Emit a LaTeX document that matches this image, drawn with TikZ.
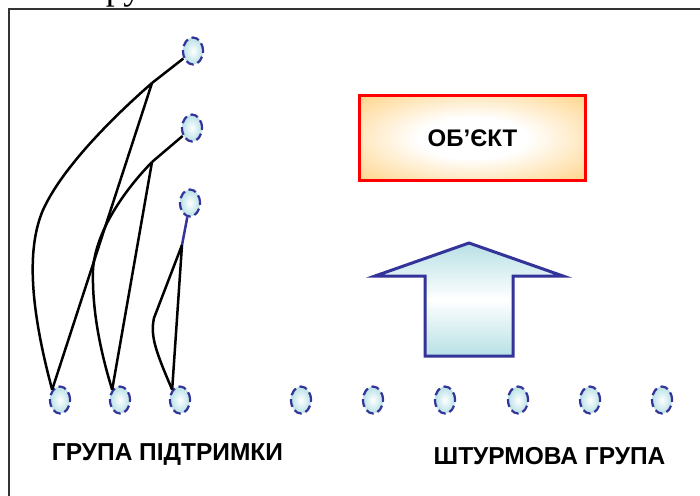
\documentclass[tikz,border=0pt]{standalone}
\usepackage{fontspec}
\setmainfont{Liberation Sans}
\newfontfamily\serifont{Liberation Serif}
\usetikzlibrary{shapes.geometric}
\definecolor{dblue}{rgb}{0.2,0.2,0.6}
\definecolor{lcyan}{rgb}{0.72,0.88,0.9}
\definecolor{orng}{rgb}{1,0.8,0.45}
\definecolor{framegray}{rgb}{0.2,0.2,0.2}
\pgfdeclareradialshading{boxshade}{\pgfpoint{0bp}{0bp}}{color(0bp)=(white); color(12bp)=(white); color(40bp)=(orng); color(80bp)=(orng)}
\tikzset{
  oval/.style={ellipse, draw=dblue, line width=2.2pt, dash pattern=on 8pt off 4pt,
    inner color=white, outer color=lcyan, minimum width=20pt, minimum height=27pt, inner sep=0pt},
  link/.style={black, line width=2.5pt, line join=miter},
  biglabel/.style={font=\bfseries\fontsize{24.5}{28}\selectfont},
}
\begin{document}
\begin{tikzpicture}[x=1pt,y=-1pt]
\useasboundingbox (0,0) rectangle (700,495);
% cut-off title fragment
\node[anchor=base west, inner sep=0pt, font=\serifont\fontsize{36}{40}\selectfont] (title) at (87,-0.8) {Група};
% frame
\draw[framegray, line width=1.8pt] (9,500) -- (9,9) -- (705,9);

% top ovals
\node[oval] (t1) at (193,51) {};
\node[oval] (t2) at (192,128) {};
\node[oval] (t3) at (190,203) {};
% bottom ovals
\node[oval] (b1) at (60,400) {};
\node[oval] (b2) at (120,400) {};
\node[oval] (b3) at (180,400) {};
\node[oval] (b4) at (301,400) {};
\node[oval] (b5) at (373,400) {};
\node[oval] (b6) at (445,400) {};
\node[oval] (b7) at (518,400) {};
\node[oval] (b8) at (590,400) {};
\node[oval] (b9) at (662,400) {};

% apex points
\coordinate (a1) at (152,83);
\coordinate (a2) at (152,162);
\coordinate (a3) at (182,245);

% links
\draw[link] (t1) -- (a1);
\draw[link] (a1) -- (b1.north west);
\draw[link] (a1) .. controls (112,118) and (62,168) .. (43,210)
  .. controls (28,245) and (28,300) .. (b1.north west);

\draw[link] (t2) -- (a2);
\draw[link] (a2) -- (b2.north west);
\draw[link] (a2) .. controls (120,195) and (95,235) .. (93,270)
  .. controls (92,310) and (100,350) .. (b2.north west);

\draw[dblue, line width=2.5pt] (t3) -- (a3);
\draw[link] (a3) -- (b3.north west);
\draw[link] (a3) -- (154,318) .. controls (150,336) and (156,352) .. (b3.north west);

% object box
\node[draw=red, line width=3.5pt, shading=boxshade, minimum width=226pt, minimum height=85pt,
  inner sep=0pt, font=\bfseries\fontsize{24}{28}\selectfont] (obj) at (472.5,138) {ОБ’ЄКТ};

% big arrow
\shade[top color=lcyan, bottom color=lcyan, middle color=white]
  (469,243) -- (563,276) -- (513,276) -- (513,356) -- (425,356) -- (425,276) -- (375,276) -- cycle;
\draw[dblue, line width=3pt, miter limit=20]
  (469,243) -- (563,276) -- (513,276) -- (513,356) -- (425,356) -- (425,276) -- (375,276) -- cycle;

% labels
\node[biglabel] (lab1) at (167.5,455) {ГРУПА ПІДТРИМКИ};
\node[biglabel] (lab2) at (549.5,456) {ШТУРМОВА ГРУПА};
\end{tikzpicture}
\end{document}
